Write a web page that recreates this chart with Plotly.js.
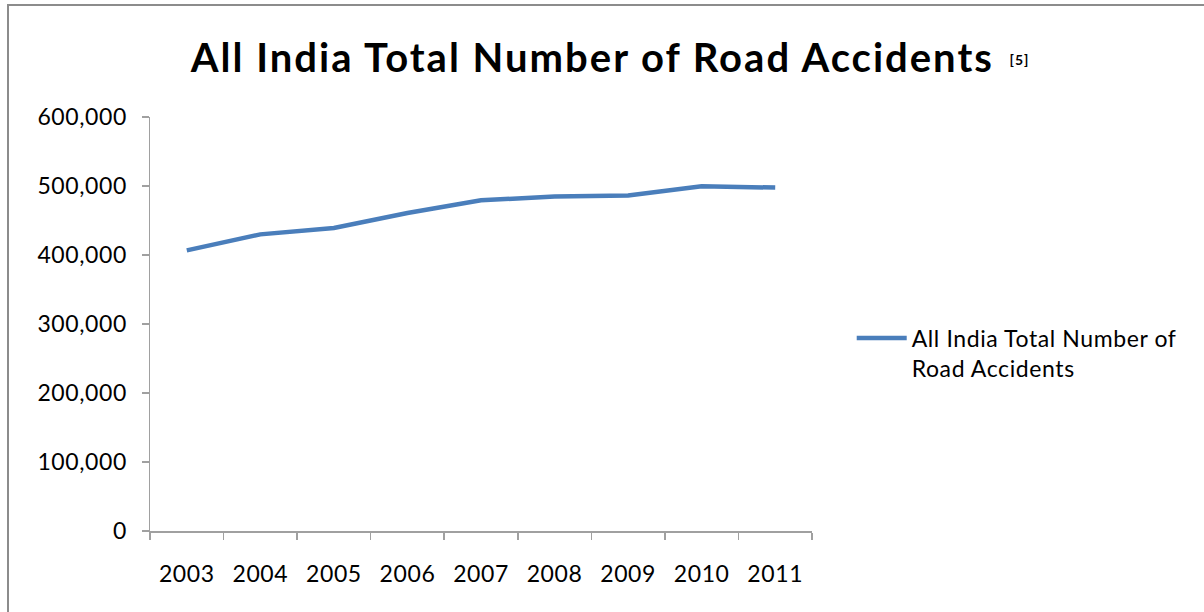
<!DOCTYPE html>
<html>
<head>
<meta charset="utf-8">
<script src="https://cdn.plot.ly/plotly-3.0.1.min.js"></script>
<style>
html,body{margin:0;padding:0;background:#fff;}
#wrap{position:relative;width:1204px;height:612px;overflow:hidden;}
#chart{position:absolute;left:0;top:0;width:1204px;height:612px;}
#frame{position:absolute;left:7px;top:4px;width:1220px;height:640px;border:2px solid #8c8c8c;pointer-events:none;}
#chart .xtick text, #chart .ytick text, #chart .legendtext{letter-spacing:0.6px;}
#chart .gtitle{letter-spacing:2px;}
#chart .annotation-text{letter-spacing:1px;}
#chart .legend .scrollbox, #chart .legend{clip-path:none !important;}
</style>
</head>
<body>
<div id="wrap"><div id="chart"></div><div id="frame"></div></div>
<script>
const years = ['2003','2004','2005','2006','2007','2008','2009','2010','2011'];
const accidents = [406726, 429910, 439255, 460920, 479216, 484704, 486384, 499628, 497686];
const seriesName = 'All India Total Number of<br>Road Accidents';
const yTicks = [0, 100000, 200000, 300000, 400000, 500000, 600000];
const yTickLabels = ['0', '100,000', '200,000', '300,000', '400,000', '500,000', '600,000'];

const FONT = 'Lato, "Open Sans", sans-serif';

const trace = {
  x: years,
  y: accidents,
  type: 'scatter',
  mode: 'lines',
  name: seriesName,
  line: {color: '#4a7ebb', width: 4.5, shape: 'linear'},
  hoverinfo: 'x+y'
};

const layout = {
  width: 1204,
  height: 612,
  margin: {l: 150, r: 392, t: 117, b: 81, pad: 0},
  paper_bgcolor: '#ffffff',
  plot_bgcolor: '#ffffff',
  font: {family: FONT, size: 23, color: '#000000'},
  title: {
    text: '<b>All India Total Number of Road Accidents</b>',
    font: {family: FONT, size: 40, color: '#000000'},
    x: 0.492, xref: 'container', xanchor: 'center',
    y: 0.905, yref: 'container', yanchor: 'middle'
  },
  annotations: [{
    text: '<b>[5]</b>',
    xref: 'paper', yref: 'paper',
    x: 1.297, y: 1.14, xanchor: 'left', yanchor: 'middle',
    showarrow: false,
    font: {family: FONT, size: 14, color: '#000'}
  }],
  xaxis: {
    type: 'category',
    range: [-0.5, 8.5],
    showgrid: false,
    zeroline: false,
    showline: true,
    linecolor: '#a0a0a0',
    linewidth: 1.5,
    ticks: 'outside',
    tickson: 'boundaries',
    ticklen: 7,
    tickcolor: '#a0a0a0',
    tickwidth: 1.5,
    ticklabelstandoff: 22,
    tickfont: {family: FONT, size: 23, color: '#000'},
    fixedrange: true
  },
  yaxis: {
    range: [0, 600000],
    tickvals: yTicks,
    ticktext: yTickLabels,
    showgrid: false,
    zeroline: false,
    showline: true,
    linecolor: '#a0a0a0',
    linewidth: 1.5,
    ticks: 'outside',
    ticklen: 7,
    tickcolor: '#a0a0a0',
    tickwidth: 1.5,
    ticklabelstandoff: 10,
    tickfont: {family: FONT, size: 23, color: '#000'},
    fixedrange: true
  },
  showlegend: true,
  legend: {
    x: 1.06, xanchor: 'left',
    y: 0.43, yanchor: 'middle',
    valign: 'top',
    font: {family: FONT, size: 23, color: '#000'},
    bgcolor: 'rgba(0,0,0,0)',
    itemwidth: 50
  }
};

Plotly.newPlot('chart', [trace], layout, {displayModeBar: false, staticPlot: true});
</script>
</body>
</html>
